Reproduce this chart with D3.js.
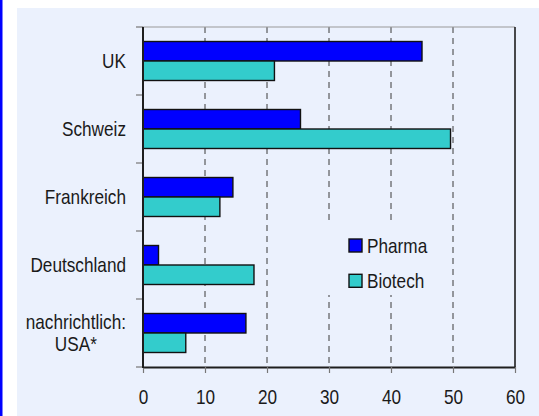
<!DOCTYPE html>
<html>
<head>
<meta charset="utf-8">
<script src="https://cdn.jsdelivr.net/npm/d3@7"></script>
<style>
  html, body { margin: 0; padding: 0; background: #ffffff; }
  svg { display: block; }
  text { font-family: "Liberation Sans", Arial, sans-serif; fill: #1a1a1a; }
</style>
</head>
<body>
<svg id="chart" width="539" height="416"></svg>
<script>
// Countries (top to bottom); "\n" breaks a label onto two lines
const categories = ["UK", "Schweiz", "Frankreich", "Deutschland", "nachrichtlich:\nUSA*"];
const seriesNames = ["Pharma", "Biotech"];
const pharma  = [45, 25.4, 14.5, 2.5, 16.6];
const biotech = [21.2, 49.6, 12.4, 17.9, 6.9];
const xTicks = [0, 10, 20, 30, 40, 50, 60];
const colors = ["#0000ff", "#33cccc"];

const panelFill = "#ebf1fd";
const squeeze = 0.86; // horizontal narrowing of all lettering

const svg = d3.select("#chart");

// page frame: blue rule on the left, tinted panel
svg.append("rect").attr("x", 0).attr("y", 0).attr("width", 2.5).attr("height", 416).attr("fill", "#0000ff");
svg.append("rect").attr("x", 17).attr("y", 8).attr("width", 522).attr("height", 408).attr("fill", panelFill);

const plot = { left: 143, right: 515, top: 27, bottom: 367 };

const x = d3.scaleLinear().domain([0, 60]).range([plot.left, plot.right]);
const y0 = d3.scaleBand().domain(categories).range([plot.top, plot.bottom]).padding(0);
const y1 = d3.scaleBand().domain(seriesNames).range([0, y0.bandwidth()])
  .paddingInner(0).paddingOuter(0.744);

const rows = categories.map((c, i) => ({ cat: c, values: [pharma[i], biotech[i]] }));

// dashed vertical gridlines
svg.append("g")
  .selectAll("line")
  .data(xTicks.filter(t => t > 0 && t < 60))
  .join("line")
  .attr("x1", d => x(d)).attr("x2", d => x(d))
  .attr("y1", plot.top).attr("y2", plot.bottom)
  .attr("stroke", "#3a3a3a").attr("stroke-width", 1)
  .attr("stroke-dasharray", "6,5");

// legend background hides the gridlines behind it
svg.append("rect").attr("x", 300).attr("y", 221).attr("width", 145).attr("height", 74).attr("fill", panelFill);

// plot frame: light top edge, dark right edge
svg.append("line").attr("x1", plot.left).attr("x2", plot.right).attr("y1", plot.top).attr("y2", plot.top)
  .attr("stroke", "#9a9a9a").attr("stroke-width", 1.2);
svg.append("line").attr("x1", plot.right).attr("x2", plot.right).attr("y1", plot.top).attr("y2", plot.bottom)
  .attr("stroke", "#1e1e1e").attr("stroke-width", 1.6);

// bars
const groups = svg.append("g").selectAll("g")
  .data(rows)
  .join("g")
  .attr("transform", d => `translate(0,${y0(d.cat)})`);

groups.selectAll("rect")
  .data(d => d.values.map((v, i) => ({ series: seriesNames[i], value: v, i })))
  .join("rect")
  .attr("x", x(0))
  .attr("y", d => y1(d.series))
  .attr("width", d => x(d.value) - x(0))
  .attr("height", y1.bandwidth())
  .attr("fill", d => colors[d.i])
  .attr("stroke", "#111")
  .attr("stroke-width", 1.4);

// x axis
const xAxis = svg.append("g")
  .attr("transform", `translate(0,${plot.bottom})`)
  .call(d3.axisBottom(x).tickValues(xTicks).tickSizeInner(6).tickSizeOuter(0).tickFormat(d3.format("d")));
xAxis.select(".domain").attr("stroke", "#1e1e1e").attr("stroke-width", 2.2);
xAxis.selectAll(".tick line").attr("stroke", "#777").attr("stroke-width", 1.2);
xAxis.selectAll(".tick text")
  .attr("y", 37).attr("dy", 0)
  .attr("font-size", 20)
  .attr("transform", `scale(${squeeze},1)`)
  .style("font-family", "'Liberation Sans', Arial, sans-serif")
  .style("fill", "#1a1a1a");

// y axis: boundary ticks between the country bands
const boundaries = categories.map(c => y0(c)).concat([plot.bottom]);
const yAxis = svg.append("g");
yAxis.selectAll("line.tick")
  .data(boundaries)
  .join("line")
  .attr("class", "tick")
  .attr("x1", plot.left - 7).attr("x2", plot.left)
  .attr("y1", d => d).attr("y2", d => d)
  .attr("stroke", "#777").attr("stroke-width", 1.2);
yAxis.append("line")
  .attr("x1", plot.left).attr("x2", plot.left)
  .attr("y1", plot.top).attr("y2", plot.bottom + 1)
  .attr("stroke", "#1e1e1e").attr("stroke-width", 2);

// category labels, right aligned, multi-line labels centred on each other
const labelGap = 17;
categories.forEach(c => {
  const lines = c.split("\n");
  const cy = y0(c) + y0.bandwidth() / 2;
  const g = svg.append("g").attr("transform", `translate(${plot.left - labelGap},${cy}) scale(${squeeze},1)`);
  const t = g.append("text").attr("font-size", 20).attr("text-anchor", "middle");
  const spans = lines.map((ln, i) => t.append("tspan")
    .attr("x", 0)
    .attr("dy", i === 0 ? `${0.35 - (lines.length - 1) * 0.575}em` : "1.15em")
    .text(ln));
  const w = d3.max(spans, s => s.node().getComputedTextLength());
  spans.forEach(s => s.attr("x", -w / 2));
});

// legend
const legend = svg.append("g").attr("transform", "translate(349,239)");
seriesNames.forEach((name, i) => {
  const row = legend.append("g").attr("transform", `translate(0,${i * 35.3})`);
  row.append("rect").attr("width", 13).attr("height", 13)
    .attr("fill", colors[i]).attr("stroke", "#111").attr("stroke-width", 1.4);
  row.append("g").attr("transform", `translate(18,6.8) scale(${squeeze},1)`)
    .append("text").attr("font-size", 20).attr("dy", "0.35em").text(name);
});
</script>
</body>
</html>
